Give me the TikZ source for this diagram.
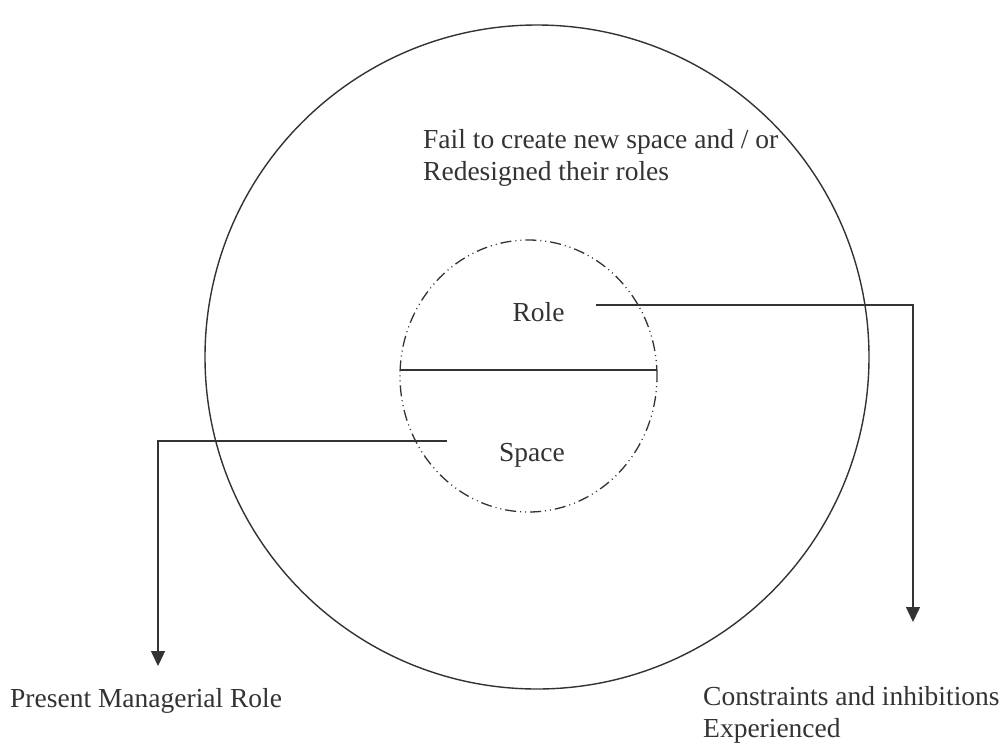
\documentclass[tikz,border=0pt]{standalone}
\usepackage{fontspec}
\setmainfont{Liberation Serif}
\usetikzlibrary{arrows.meta,shapes.geometric}
\definecolor{ink}{HTML}{333333}
\begin{document}
\begin{tikzpicture}[x=1pt,y=-1pt,
  ink line/.style={draw=ink, line width=1.4pt},
  dashdotdot line/.style={draw=ink, line width=1.3pt,
    dash pattern=on 11pt off 4pt on 1pt off 4pt on 1pt off 4pt},
  label text/.style={text=ink, inner sep=0pt, anchor=base west,
    font=\fontsize{27.5}{32}\selectfont},
  center text/.style={text=ink, inner sep=0pt, anchor=base,
    font=\fontsize{27.5}{32}\selectfont},
  tip arrow/.style={ink line, -{Triangle[width=14pt,length=15pt]}}]
\useasboundingbox (0,0) rectangle (1004,748);
\fill[white] (0,0) rectangle (1004,748);

% outer circle
\node[circle, ink line, minimum size=664pt, inner sep=0pt] (outer) at (537,357) {};
% inner dash-dot ellipse
\node[ellipse, dashdotdot line, minimum width=257pt, minimum height=272pt, inner sep=0pt] (inner) at (528.5,376) {};

% dividing line
\coordinate (divL) at (400,370);
\coordinate (divR) at (657,370);
\draw[ink line] (divL) -- (divR);

% texts
\node[label text] (fail1) at (423,148) {Fail to create new space and / or};
\node[label text] (fail2) at (423,180) {Redesigned their roles};
\node[center text] (role) at (538.5,321) {Role};
\node[center text] (space) at (532,461) {Space};
\node[label text] (present) at (10,707) {Present Managerial Role};
\node[label text] (constr1) at (703,705) {Constraints and inhibitions};
\node[label text] (constr2) at (703,737) {Experienced};

% connectors
\coordinate (roleStart) at (596,305);
\coordinate (roleCorner) at (913,305);
\coordinate (roleEnd) at (913,622);
\draw[tip arrow] (roleStart) -- (roleCorner) -- (roleEnd);

\coordinate (spaceStart) at (447,441);
\coordinate (spaceCorner) at (158,441);
\coordinate (spaceEnd) at (158,666);
\draw[tip arrow] (spaceStart) -- (spaceCorner) -- (spaceEnd);
\end{tikzpicture}
\end{document}
